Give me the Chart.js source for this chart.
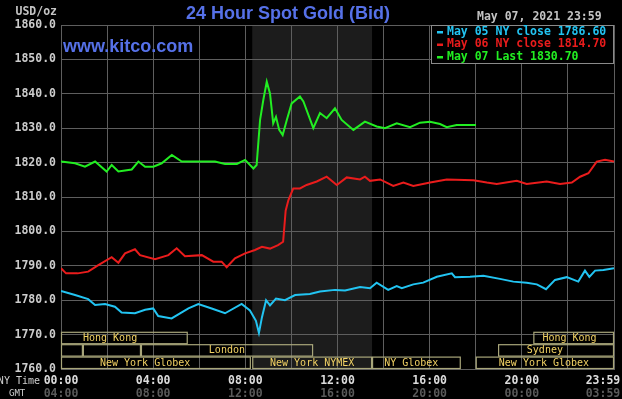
<!DOCTYPE html>
<html>
<head>
<meta charset="utf-8">
<script src="https://cdn.jsdelivr.net/npm/chart.js@4.4.1/dist/chart.umd.min.js"></script>
<style>
  html, body { margin: 0; padding: 0; background: #000; }
  #wrap { width: 622px; height: 399px; }
</style>
</head>
<body>
<div id="wrap"><canvas id="goldChart"></canvas></div>
<script>
// Hours are New York time, 0 = 00:00, 24 = 23:59
const may05Hours = [0,0.61,1.18,1.48,1.91,2.34,2.63,3.21,3.65,4.0,4.22,4.8,5.53,5.96,6.54,7.12,7.84,8.2,8.46,8.59,8.72,8.9,9.07,9.33,9.72,10.16,10.8,11.24,11.89,12.33,12.98,13.41,13.7,14.2,14.57,14.79,15.29,15.72,16.31,16.96,17.1,17.75,18.33,19.05,19.63,20.21,20.65,21.05,21.44,21.95,22.45,22.74,22.93,23.18,23.54,24];
const may05Prices = [1782.7,1781.5,1780.3,1778.6,1778.9,1778.1,1776.4,1776.2,1777.2,1777.6,1775.4,1774.7,1777.6,1778.9,1777.6,1776.2,1778.9,1777,1774,1770.5,1775,1780,1778.5,1780.5,1780,1781.5,1781.8,1782.5,1783,1782.8,1783.8,1783.5,1785.1,1783,1784.1,1783.5,1784.6,1785.1,1786.8,1787.8,1786.7,1786.8,1787.1,1786.2,1785.4,1785.1,1784.6,1783.2,1785.9,1786.7,1785.4,1788.6,1786.8,1788.6,1788.8,1789.3];

const may06Hours = [0,0.22,0.72,1.18,1.62,2.2,2.49,2.78,3.21,3.43,4.08,4.66,5.02,5.38,6.11,6.61,6.97,7.19,7.55,7.99,8.42,8.72,9.07,9.42,9.64,9.75,9.87,10.08,10.37,10.66,11.1,11.53,11.97,12.4,12.98,13.19,13.41,13.85,14.42,14.86,15.29,16.02,16.74,17.9,18.48,18.91,19.78,20.21,21.08,21.66,22.17,22.53,22.89,23.25,23.61,24];
const may06Prices = [1789.3,1787.8,1787.8,1788.3,1790.2,1792.5,1790.9,1793.6,1794.8,1793.1,1791.9,1793.1,1795.1,1792.8,1793.1,1791.2,1791.2,1789.6,1792.2,1793.6,1794.6,1795.5,1795,1796,1797,1806,1809.1,1812.5,1812.5,1813.5,1814.5,1815.9,1813.5,1815.7,1815.1,1815.9,1814.7,1815.1,1813.2,1814.2,1813.2,1814.2,1815.1,1814.9,1814.2,1813.8,1814.7,1813.8,1814.5,1813.8,1814.2,1815.9,1816.9,1820.3,1820.8,1820.3];

const may07Hours = [0,0.61,1.04,1.48,1.98,2.2,2.49,3.07,3.36,3.65,4.01,4.37,4.81,5.24,6.11,6.68,7.12,7.63,7.99,8.35,8.49,8.64,8.78,8.93,9.07,9.21,9.33,9.47,9.62,9.8,10.01,10.37,10.52,10.95,11.24,11.53,11.89,12.18,12.69,13.19,13.7,14.06,14.57,15.15,15.58,16.02,16.45,16.74,17.17,18.01];
const may07Prices = [1820.3,1819.8,1818.8,1820.3,1817.4,1819.3,1817.4,1818,1820.3,1818.8,1818.8,1819.8,1822.2,1820.3,1820.3,1820.3,1819.6,1819.6,1820.8,1818.3,1819.3,1832.4,1838.2,1843.5,1840.1,1831.4,1833.3,1829.5,1828,1832.4,1837.2,1839.2,1837.8,1830,1834.4,1832.9,1835.8,1832.4,1829.5,1831.9,1830.5,1830,1831.4,1830.3,1831.6,1831.9,1831.2,1830.3,1830.9,1830.9];

const seriesLabels = ['May 05 NY close 1786.60', 'May 06 NY close 1814.70', 'May 07 Last 1830.70'];
const seriesColors = ['#22c4f2', '#ea1c1c', '#22ee22'];

// x axis labels (last one sits left of the edge, like the original)
const tickHours = [0, 4, 8, 12, 16, 20, 23.52];
const nyLabels = ['00:00', '04:00', '08:00', '12:00', '16:00', '20:00', '23:59'];
const gmtLabels = ['04:00', '08:00', '12:00', '16:00', '20:00', '00:00', '03:59'];

// trading sessions: row 0 = top band, row 2 = bottom band
const sessionNames = ['Hong Kong', 'Hong Kong', '', '', 'London', 'Sydney', 'New York Globex', 'New York NYMEX', 'NY Globex', 'New York Globex'];
const sessionStart = [0, 20.5, 0, 0.95, 3.47, 18.97, 0, 8.3, 13.5, 18];
const sessionEnd   = [5.5, 24, 0.95, 3.47, 10.94, 24, 8.24, 13.5, 17.35, 24];
const sessionRow   = [0, 0, 1, 1, 1, 1, 2, 2, 2, 2];
const sessionLabelAt = [2.13, 22.07, 0, 0, 7.2, 21.0, 3.65, 10.9, 15.2, 20.96];
const nymexShade = [8.3, 13.5];

const MONO = '"DejaVu Sans Mono", monospace';
const SANS = '"Liberation Sans", Arial, sans-serif';
const GRID = '#5e5e5e';

function toPoints(hours, prices) {
    return hours.map((h, i) => ({ x: h, y: prices[i] }));
}

const kitcoOverlay = {
    id: 'kitcoOverlay',
    beforeDraw(chart) {
        const { ctx, chartArea: a, scales: { x } } = chart;
        ctx.save();
        ctx.fillStyle = '#000';
        ctx.fillRect(0, 0, chart.width, chart.height);
        const s = x.getPixelForValue(nymexShade[0]);
        const e = x.getPixelForValue(nymexShade[1]);
        ctx.fillStyle = '#1c1c1c';
        ctx.fillRect(s, a.top, e - s, a.bottom - a.top);
        ctx.restore();
    },
    beforeDatasetsDraw(chart) {
        const { ctx, chartArea: a, scales: { x } } = chart;
        const rowH = 12.4;
        ctx.save();
        ctx.lineWidth = 1.2;
        ctx.strokeStyle = '#a8a67a';
        ctx.font = '10px ' + MONO;
        ctx.textAlign = 'center';
        ctx.textBaseline = 'middle';
        sessionNames.forEach((name, i) => {
            const top = a.bottom - (3 - sessionRow[i]) * rowH;
            const x0 = Math.max(a.left, x.getPixelForValue(sessionStart[i]));
            const x1 = Math.min(a.right, x.getPixelForValue(sessionEnd[i]));
            ctx.strokeRect(x0 + 0.5, top + 0.5, x1 - x0 - 1, rowH - 1);
            if (name) {
                ctx.fillStyle = '#f2d264';
                ctx.fillText(name, x.getPixelForValue(sessionLabelAt[i]), top + rowH / 2 + 0.5);
            }
        });
        ctx.restore();
    },
    afterDatasetsDraw(chart) {
        const { ctx, chartArea: a } = chart;
        ctx.save();

        // legend box
        const lx = 431, ly = a.top, lw = a.right - lx, lh = 39;
        ctx.fillStyle = '#000';
        ctx.fillRect(lx, ly, lw, lh);
        ctx.strokeStyle = '#8a8a8a';
        ctx.lineWidth = 1;
        ctx.strokeRect(lx + 0.5, ly + 0.5, lw - 1, lh - 1);
        ctx.font = 'bold 11.5px ' + MONO;
        ctx.textBaseline = 'middle';
        ctx.textAlign = 'left';
        seriesLabels.forEach((label, i) => {
            const y = ly + 7 + i * 12.5;
            ctx.fillStyle = seriesColors[i];
            ctx.fillRect(437, y - 1, 6, 2.5);
            ctx.fillText(label, 447, y);
        });

        // headings
        ctx.fillStyle = '#5671e8';
        ctx.font = 'bold 18px ' + SANS;
        ctx.textAlign = 'center';
        ctx.fillText('24 Hour Spot Gold (Bid)', 288, 14);
        ctx.textAlign = 'left';
        ctx.fillText('www.kitco.com', 63, 47);

        ctx.fillStyle = '#c4c4c4';
        ctx.font = 'bold 11.5px ' + MONO;
        ctx.fillText('May 07, 2021 23:59', 477, 17);
        ctx.textAlign = 'right';
        ctx.fillText('USD/oz', 57, 12);

        ctx.font = '10px ' + MONO;
        ctx.fillStyle = '#d0d0d0';
        ctx.fillText('NY Time', 40, 381);
        ctx.font = '9px ' + MONO;
        ctx.textAlign = 'left';
        ctx.fillText('GMT', 9, 394);
        ctx.restore();
    }
};

function noSidePadding(scale) {
    scale.paddingLeft = 0;
    scale.paddingRight = 0;
}

new Chart(document.getElementById('goldChart'), {
    type: 'line',
    data: {
        datasets: [
            { label: seriesLabels[0], data: toPoints(may05Hours, may05Prices), borderColor: seriesColors[0] },
            { label: seriesLabels[1], data: toPoints(may06Hours, may06Prices), borderColor: seriesColors[1] },
            { label: seriesLabels[2], data: toPoints(may07Hours, may07Prices), borderColor: seriesColors[2] }
        ]
    },
    options: {
        responsive: true,
        maintainAspectRatio: false,
        animation: false,
        layout: { padding: { top: 25, right: 8, left: 0, bottom: 0 } },
        elements: {
            point: { radius: 0 },
            line: { borderWidth: 2, tension: 0 }
        },
        plugins: {
            legend: { display: false },
            title: { display: false },
            tooltip: { enabled: false }
        },
        scales: {
            x: {
                type: 'linear', position: 'bottom', weight: 0,
                min: 0, max: 24,
                ticks: { display: false, stepSize: 2 },
                grid: { color: GRID, drawTicks: false },
                border: { color: GRID },
                afterFit: function(scale) { noSidePadding(scale); scale.height = 0; }
            },
            ny: {
                type: 'linear', position: 'bottom', weight: 1,
                min: 0, max: 24,
                grid: { display: false, drawTicks: false },
                border: { display: false },
                afterBuildTicks: function(scale) { scale.ticks = tickHours.map(v => ({ value: v })); },
                ticks: {
                    autoSkip: false, maxRotation: 0, padding: 5,
                    color: '#dcdcdc',
                    font: { family: MONO, size: 11.5, weight: 'bold' },
                    callback: (v, i) => nyLabels[i]
                },
                afterFit: function(scale) { noSidePadding(scale); scale.height = 18; }
            },
            gmt: {
                type: 'linear', position: 'bottom', weight: 2,
                min: 0, max: 24,
                grid: { display: false, drawTicks: false },
                border: { display: false },
                afterBuildTicks: function(scale) { scale.ticks = tickHours.map(v => ({ value: v })); },
                ticks: {
                    autoSkip: false, maxRotation: 0, padding: 0,
                    color: '#5a5a5a',
                    font: { family: MONO, size: 11.5, weight: 'bold' },
                    callback: (v, i) => gmtLabels[i]
                },
                afterFit: function(scale) { noSidePadding(scale); scale.height = 12; }
            },
            y: {
                min: 1760, max: 1860,
                ticks: {
                    stepSize: 10, padding: 5,
                    color: '#cccccc',
                    font: { family: MONO, size: 11.5, weight: 'bold' },
                    callback: v => v.toFixed(1)
                },
                grid: { color: GRID, drawTicks: false },
                border: { color: GRID },
                afterFit: function(scale) { scale.width = 61; }
            }
        }
    },
    plugins: [kitcoOverlay]
});
</script>
</body>
</html>
